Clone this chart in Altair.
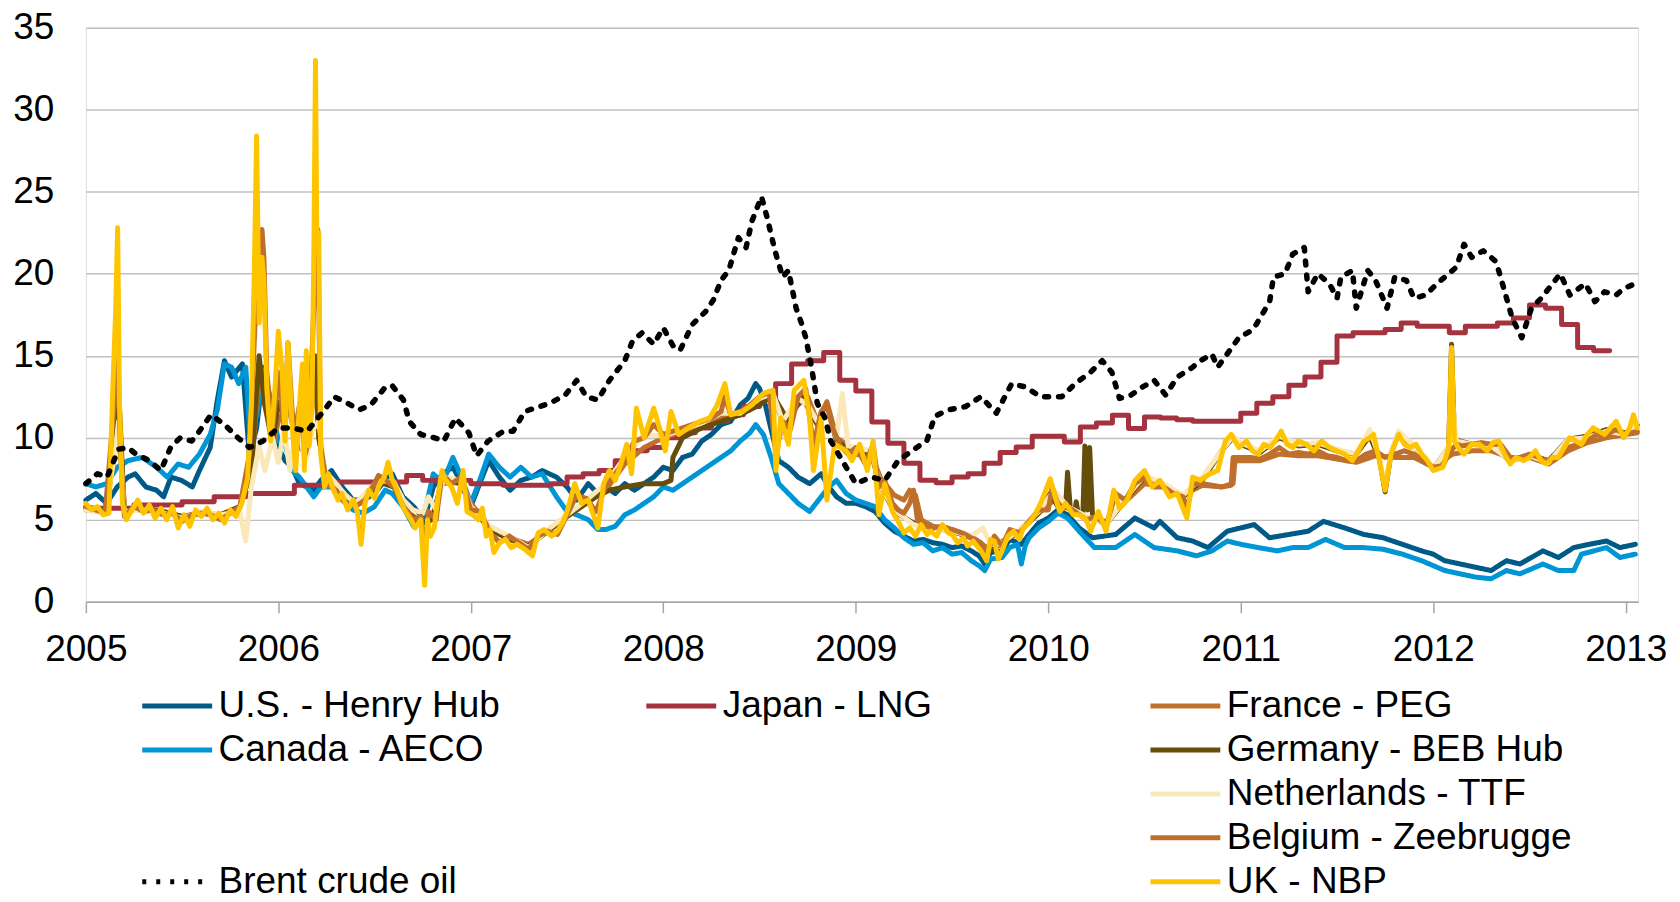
import altair as alt
import pandas as pd

FONT = "Liberation Sans"

# ---------------- data (decimal year, $/MMBtu) ----------------
hh_x = [2005.0, 2005.052, 2005.108, 2005.163, 2005.219, 2005.256, 2005.312, 2005.367, 2005.404, 2005.442,
        2005.497, 2005.553, 2005.59, 2005.646, 2005.683, 2005.72, 2005.757, 2005.813, 2005.85, 2005.887,
        2005.924, 2005.961, 2006.0, 2006.035, 2006.072, 2006.109, 2006.147, 2006.184, 2006.221, 2006.276,
        2006.332, 2006.388, 2006.443, 2006.499, 2006.555, 2006.592, 2006.647, 2006.703, 2006.759, 2006.805,
        2006.852, 2006.907, 2006.944, 2007.0, 2007.046, 2007.093, 2007.148, 2007.204, 2007.26, 2007.315,
        2007.371, 2007.445, 2007.50, 2007.55, 2007.61, 2007.66, 2007.70, 2007.75, 2007.80, 2007.85,
        2007.90, 2007.95, 2008.00, 2008.05, 2008.10, 2008.15, 2008.20, 2008.25, 2008.30, 2008.35,
        2008.40, 2008.44, 2008.48, 2008.50, 2008.53, 2008.56, 2008.60, 2008.65, 2008.70, 2008.76,
        2008.82, 2008.86, 2008.90, 2008.95, 2009.00, 2009.05, 2009.10, 2009.15, 2009.20, 2009.25,
        2009.30, 2009.35, 2009.40, 2009.45, 2009.50, 2009.55, 2009.60, 2009.64, 2009.67, 2009.70,
        2009.76, 2009.80, 2009.86, 2009.90, 2009.95, 2010.00, 2010.05, 2010.10, 2010.16, 2010.23,
        2010.35, 2010.45, 2010.55, 2010.58, 2010.67, 2010.75, 2010.83, 2010.93, 2011.00, 2011.07,
        2011.15, 2011.25, 2011.35, 2011.43, 2011.54, 2011.64, 2011.74, 2011.84, 2011.94, 2012.00,
        2012.06, 2012.14, 2012.22, 2012.30, 2012.38, 2012.45, 2012.57, 2012.65, 2012.73, 2012.81,
        2012.90, 2012.97, 2013.05]
hh_v = [6.2, 6.6, 6.0, 7.0, 7.6, 7.8, 7.0, 6.8, 6.4, 7.6,
        7.4, 7.0, 8.0, 9.4, 12.3, 14.7, 13.7, 14.5, 8.8, 10.6,
        14.3, 11.7, 9.4, 8.6, 8.2, 7.2, 7.0, 6.8, 7.4, 8.0,
        7.0, 6.2, 6.2, 6.6, 7.4, 7.8, 6.4, 5.8, 5.0, 7.0,
        7.8, 8.2, 7.4, 5.8, 7.2, 8.6, 7.6, 6.8, 7.4, 7.6,
        8.0, 7.6, 7.0, 6.2, 7.2, 6.6, 7.0, 6.6, 7.2, 6.8,
        7.2, 7.6, 8.2, 8.0, 8.8, 9.0, 9.8, 10.2, 10.8, 11.0,
        12.0, 12.4, 13.3, 13.0, 12.0, 10.5, 8.6, 8.2, 7.6, 7.2,
        7.8, 7.0, 6.4, 6.0, 6.0, 5.8, 5.5, 4.8, 4.3, 4.0,
        3.7, 3.8, 3.6, 3.5, 3.3, 3.4, 3.1, 2.8, 2.3, 3.0,
        3.1, 3.8, 3.5, 4.1, 4.8, 5.1, 5.6, 5.3, 4.5, 3.9,
        4.1, 5.1, 4.5, 4.9, 3.9, 3.7, 3.3, 4.3, 4.5, 4.7,
        3.9, 4.1, 4.3, 4.9, 4.5, 4.1, 3.9, 3.5, 3.1, 2.9,
        2.5, 2.3, 2.1, 1.9, 2.5, 2.3, 3.1, 2.7, 3.3, 3.5,
        3.7, 3.3, 3.5]

aeco_x = [2005.0, 2005.052, 2005.108, 2005.163, 2005.219, 2005.293, 2005.367, 2005.423, 2005.479, 2005.534,
          2005.59, 2005.646, 2005.683, 2005.72, 2005.757, 2005.794, 2005.831, 2005.85, 2005.887, 2005.924,
          2005.961, 2006.0, 2006.035, 2006.072, 2006.109, 2006.147, 2006.184, 2006.221, 2006.276, 2006.332,
          2006.388, 2006.443, 2006.499, 2006.555, 2006.592, 2006.647, 2006.703, 2006.759, 2006.805, 2006.852,
          2006.907, 2006.944, 2007.0, 2007.046, 2007.093, 2007.148, 2007.204, 2007.26, 2007.315, 2007.371,
          2007.445, 2007.50, 2007.55, 2007.61, 2007.66, 2007.70, 2007.75, 2007.80, 2007.85, 2007.90,
          2007.95, 2008.00, 2008.05, 2008.10, 2008.15, 2008.20, 2008.25, 2008.30, 2008.35, 2008.40,
          2008.45, 2008.48, 2008.52, 2008.56, 2008.60, 2008.65, 2008.70, 2008.76, 2008.82, 2008.86,
          2008.90, 2008.95, 2009.00, 2009.05, 2009.10, 2009.15, 2009.20, 2009.25, 2009.30, 2009.35,
          2009.40, 2009.45, 2009.50, 2009.55, 2009.60, 2009.64, 2009.67, 2009.70, 2009.76, 2009.80,
          2009.84, 2009.86, 2009.88, 2009.90, 2009.95, 2010.00, 2010.05, 2010.10, 2010.16, 2010.24,
          2010.35, 2010.45, 2010.55, 2010.67, 2010.77, 2010.85, 2010.93, 2011.00, 2011.09, 2011.19,
          2011.27, 2011.35, 2011.44, 2011.54, 2011.64, 2011.74, 2011.84, 2011.94, 2012.06, 2012.14,
          2012.22, 2012.30, 2012.38, 2012.45, 2012.57, 2012.65, 2012.73, 2012.77, 2012.90, 2012.97,
          2013.05]
aeco_v = [7.2, 7.0, 7.2, 8.2, 8.6, 8.8, 8.2, 7.6, 8.4, 8.2,
          9.0, 10.2, 11.7, 14.5, 14.3, 13.3, 14.3, 10.6, 11.3, 14.1,
          12.3, 9.8, 9.6, 8.0, 7.6, 7.0, 6.4, 7.0, 7.0, 6.2,
          5.6, 5.4, 5.8, 6.8, 6.6, 5.8, 4.6, 5.4, 7.8, 7.2,
          8.8, 7.8, 6.0, 7.4, 9.0, 8.2, 7.6, 8.2, 7.6, 7.8,
          6.4, 5.5, 5.3, 5.0, 4.4, 4.4, 4.6, 5.3, 5.6, 6.0,
          6.4, 7.0, 6.8, 7.2, 7.6, 8.0, 8.4, 8.8, 9.2, 9.8,
          10.3, 10.8, 10.2, 8.8, 7.2, 6.6, 6.0, 5.5, 6.4, 7.0,
          7.4, 6.6, 6.2, 6.0, 5.8, 5.0, 4.5, 3.9, 3.5, 3.6,
          3.1, 3.3, 2.9, 3.0, 2.5, 2.2, 1.9, 2.6, 2.7, 3.3,
          3.5, 2.3, 3.4, 3.9, 4.5, 4.9, 5.4, 5.1, 4.3, 3.3,
          3.3, 4.1, 3.3, 3.1, 2.8, 3.1, 3.7, 3.5, 3.3, 3.1,
          3.3, 3.3, 3.8, 3.3, 3.3, 3.2, 2.9, 2.5, 1.9, 1.7,
          1.5, 1.4, 1.9, 1.7, 2.3, 1.9, 1.9, 2.9, 3.3, 2.7,
          2.9]

# Japan LNG: monthly values (Jan 2005 - Nov 2012), drawn as steps
japan_2005 = [5.7, 5.7, 5.7, 5.9, 5.9, 5.9, 6.1, 6.1, 6.4, 6.4, 6.6, 6.6]
japan_2006 = [6.6, 7.1, 7.1, 7.3, 7.3, 7.3, 7.3, 7.3, 7.7, 7.4, 7.4, 7.4]
japan_2007 = [7.2, 7.2, 7.1, 7.1, 7.1, 7.2, 7.6, 7.8, 8.0, 8.6, 9.2, 9.4]
japan_2008 = [10.0, 10.3, 10.6, 11.0, 11.4, 11.9, 12.4, 13.3, 14.5, 14.7, 15.2, 13.5]
japan_2009 = [12.85, 10.96, 9.66, 8.44, 7.41, 7.25, 7.6, 7.8, 8.44, 9.1, 9.44, 10.09]
japan_2010 = [10.09, 9.74, 10.66, 10.9, 11.37, 10.56, 11.27, 11.2, 11.1, 11.0, 11.0, 11.0]
japan_2011 = [11.5, 12.1, 12.5, 13.2, 13.7, 14.6, 16.2, 16.4, 16.4, 16.6, 17.0, 16.8]
japan_2012 = [16.8, 16.4, 16.8, 16.8, 17.0, 17.3, 18.1, 17.9, 16.9, 15.5, 15.3]

uk_x = [2005.00, 2005.03, 2005.06, 2005.09, 2005.12, 2005.14, 2005.155, 2005.165, 2005.175, 2005.19,
        2005.21, 2005.24, 2005.27, 2005.30, 2005.33, 2005.36, 2005.39, 2005.42, 2005.45, 2005.48,
        2005.51, 2005.54, 2005.57, 2005.60, 2005.63, 2005.66, 2005.69, 2005.72, 2005.75, 2005.78,
        2005.81, 2005.84, 2005.86, 2005.875, 2005.887, 2005.90, 2005.915, 2005.925, 2005.94, 2005.96,
        2005.98, 2006.00, 2006.02, 2006.035, 2006.05, 2006.07, 2006.09, 2006.11, 2006.125, 2006.135,
        2006.145, 2006.16, 2006.175, 2006.185, 2006.193, 2006.20, 2006.21, 2006.22, 2006.24, 2006.26,
        2006.28, 2006.31, 2006.33, 2006.36, 2006.39, 2006.41, 2006.43, 2006.45, 2006.47, 2006.50,
        2006.52, 2006.55, 2006.57, 2006.59, 2006.61, 2006.64, 2006.66, 2006.69, 2006.71, 2006.74,
        2006.76, 2006.775, 2006.79, 2006.81, 2006.83, 2006.85, 2006.87, 2006.90, 2006.93, 2006.96,
        2006.98, 2007.01, 2007.04, 2007.06, 2007.08, 2007.10, 2007.12, 2007.15, 2007.18, 2007.21,
        2007.24, 2007.28, 2007.32, 2007.35, 2007.38, 2007.42, 2007.45, 2007.48, 2007.50, 2007.54,
        2007.575, 2007.61, 2007.66, 2007.69, 2007.72, 2007.75, 2007.78, 2007.81, 2007.835, 2007.86,
        2007.90, 2007.95, 2007.98, 2008.01, 2008.04, 2008.08, 2008.13, 2008.19, 2008.24, 2008.28,
        2008.32, 2008.35, 2008.41, 2008.46, 2008.52, 2008.57, 2008.585, 2008.61, 2008.65, 2008.68,
        2008.73, 2008.76, 2008.78, 2008.82, 2008.85, 2008.89, 2008.95, 2008.98, 2009.02, 2009.06,
        2009.09, 2009.12, 2009.15, 2009.19, 2009.22, 2009.25, 2009.28, 2009.31, 2009.34, 2009.37,
        2009.39, 2009.42, 2009.45, 2009.48, 2009.50, 2009.53, 2009.56, 2009.58, 2009.61, 2009.65,
        2009.68, 2009.70, 2009.72, 2009.74, 2009.76, 2009.79, 2009.82, 2009.85, 2009.87, 2009.90,
        2009.93, 2009.96, 2010.01, 2010.04, 2010.06, 2010.09, 2010.13, 2010.16, 2010.19, 2010.20,
        2010.22, 2010.26, 2010.30, 2010.34, 2010.37, 2010.41, 2010.45, 2010.50, 2010.54, 2010.58,
        2010.63, 2010.67, 2010.72, 2010.75, 2010.79, 2010.84, 2010.88, 2010.92, 2010.95, 2010.99,
        2011.03, 2011.06, 2011.09, 2011.12, 2011.15, 2011.18, 2011.21, 2011.24, 2011.27, 2011.30,
        2011.34, 2011.38, 2011.42, 2011.46, 2011.50, 2011.54, 2011.58, 2011.61, 2011.64, 2011.67,
        2011.69, 2011.72, 2011.75, 2011.78, 2011.82, 2011.85, 2011.88, 2011.91, 2011.94, 2011.97,
        2012.00, 2012.05, 2012.08, 2012.095, 2012.11, 2012.13, 2012.16, 2012.20, 2012.24, 2012.28,
        2012.31, 2012.34, 2012.37, 2012.40, 2012.43, 2012.47, 2012.50, 2012.53, 2012.56, 2012.59,
        2012.62, 2012.65, 2012.68, 2012.71, 2012.74, 2012.77, 2012.80, 2012.83, 2012.86, 2012.89,
        2012.92, 2012.95, 2012.99, 2013.02, 2013.04, 2013.06]
uk_v = [6.0, 5.6, 5.8, 5.3, 5.4, 13.0, 17.8, 22.8, 12.0, 6.0,
        5.0, 5.6, 6.2, 5.4, 5.9, 5.1, 5.7, 5.0, 5.8, 4.5,
        5.3, 4.6, 5.6, 5.2, 5.7, 5.0, 5.4, 4.8, 5.6, 5.2,
        6.0, 7.5, 12.0, 20.0, 28.4, 17.0, 21.0, 19.5, 13.0, 9.8,
        12.5, 16.5, 14.0, 9.8, 15.8, 11.0, 8.0, 12.0, 14.5, 8.0,
        15.3, 9.5, 12.0, 22.0, 33.0, 22.0, 22.5, 9.0, 7.0, 7.8,
        7.0, 6.2, 6.6, 5.6, 6.2, 5.5, 3.5, 6.0, 6.8, 6.3,
        7.0, 7.6, 8.5, 7.5, 7.0, 6.0, 5.5, 5.0, 4.5, 5.0,
        1.0, 5.0, 4.0, 4.5, 6.5, 8.0, 7.4, 7.0, 6.0, 8.0,
        5.5, 5.3, 5.0, 5.7, 4.0, 4.4, 3.0, 3.6, 3.8, 3.3,
        3.5, 3.2, 2.8, 4.2, 4.4, 4.0, 4.3, 4.9, 5.5, 7.2,
        6.0, 6.2, 4.5, 7.2, 8.0, 7.4, 8.4, 9.6, 7.8, 11.8,
        10.0, 11.8, 10.6, 9.2, 11.6, 10.2, 10.6, 11.0, 11.2, 12.0,
        13.3, 11.4, 11.6, 12.0, 12.7, 12.9, 8.0, 11.2, 9.6, 12.9,
        13.5, 11.2, 8.0, 11.2, 6.2, 9.6, 9.2, 8.6, 9.6, 8.0,
        9.8, 5.3, 7.2, 5.5, 4.9, 4.2, 4.5, 4.0, 4.7, 4.1,
        4.3, 4.0, 4.7, 4.2, 4.1, 3.6, 3.9, 3.4, 3.7, 3.1,
        2.5, 3.8, 3.7, 2.6, 3.1, 4.0, 4.3, 3.8, 4.5, 4.8,
        5.3, 6.0, 7.5, 6.2, 5.5, 6.0, 5.3, 5.3, 5.1, 4.9,
        4.3, 5.5, 4.3, 6.8, 5.7, 6.2, 7.4, 8.0, 7.0, 7.4,
        6.4, 6.6, 5.1, 7.6, 7.4, 7.8, 8.0, 9.8, 10.2, 9.4,
        9.8, 9.2, 9.0, 9.6, 9.4, 9.8, 10.4, 9.6, 9.4, 9.8,
        9.6, 9.2, 9.8, 9.4, 9.2, 9.0, 8.6, 9.2, 9.8, 10.0,
        10.2, 8.6, 6.8, 9.0, 10.2, 9.6, 9.4, 9.6, 9.0, 8.6,
        8.0, 8.2, 9.4, 15.5, 9.8, 9.4, 9.0, 9.6, 9.6, 9.2,
        9.7, 9.8, 9.0, 8.4, 8.8, 8.6, 8.8, 9.2, 8.6, 8.4,
        8.8, 8.8, 9.4, 10.0, 9.8, 9.6, 10.2, 10.6, 10.4, 10.2,
        10.6, 11.0, 10.0, 10.6, 11.4, 10.6]

be_x = [2005.00, 2005.05, 2005.10, 2005.14, 2005.165, 2005.18, 2005.20, 2005.25, 2005.30, 2005.35,
        2005.40, 2005.45, 2005.50, 2005.55, 2005.60, 2005.65, 2005.70, 2005.75, 2005.80, 2005.85,
        2005.89, 2005.915, 2005.925, 2005.94, 2005.97, 2006.00, 2006.03, 2006.05, 2006.08, 2006.11,
        2006.14, 2006.16, 2006.19, 2006.205, 2006.22, 2006.25, 2006.30, 2006.35, 2006.40, 2006.45,
        2006.50, 2006.52, 2006.55, 2006.60, 2006.65, 2006.70, 2006.74, 2006.76, 2006.78, 2006.82,
        2006.85, 2006.90, 2006.95, 2007.00, 2007.05, 2007.10, 2007.15, 2007.20, 2007.25, 2007.30,
        2007.35, 2007.40, 2007.45, 2007.50, 2007.55, 2007.60, 2007.65, 2007.70, 2007.75, 2007.80,
        2007.85, 2007.90, 2007.95, 2008.00, 2008.05, 2008.10, 2008.15, 2008.20, 2008.25, 2008.30,
        2008.32, 2008.35, 2008.40, 2008.45, 2008.50, 2008.55, 2008.585, 2008.62, 2008.66, 2008.70,
        2008.74, 2008.78, 2008.82, 2008.85, 2008.88, 2008.92, 2008.96, 2009.00, 2009.05, 2009.09,
        2009.12, 2009.15, 2009.19, 2009.22, 2009.25, 2009.28, 2009.30, 2009.32, 2009.36, 2009.40,
        2009.45, 2009.50, 2009.55, 2009.60, 2009.65, 2009.68, 2009.72, 2009.76, 2009.80, 2009.85,
        2009.90, 2009.95, 2010.00, 2010.02, 2010.06, 2010.10, 2010.15, 2010.20, 2010.25, 2010.30,
        2010.35, 2010.40, 2010.45, 2010.50, 2010.55, 2010.60, 2010.65, 2010.70, 2010.72, 2010.75,
        2010.80, 2010.85, 2010.90, 2010.95, 2010.96, 2011.00, 2011.05, 2011.10, 2011.15, 2011.20,
        2011.25, 2011.30, 2011.35, 2011.40, 2011.45, 2011.50, 2011.55, 2011.60, 2011.65, 2011.70,
        2011.75, 2011.80, 2011.85, 2011.90, 2011.95, 2012.00, 2012.05, 2012.08, 2012.10, 2012.12,
        2012.15, 2012.20, 2012.25, 2012.30, 2012.35, 2012.40, 2012.45, 2012.50, 2012.55, 2012.60,
        2012.65, 2012.70, 2012.75, 2012.80, 2012.85, 2012.90, 2012.95, 2013.00, 2013.06]
be_v = [5.8, 5.6, 5.4, 11.0, 15.0, 9.0, 5.2, 5.8, 5.5, 5.6,
        5.3, 5.4, 4.9, 5.3, 5.4, 5.3, 5.0, 5.4, 5.8, 9.0,
        20.0, 22.7, 21.0, 14.0, 10.5, 14.0, 10.5, 15.8, 10.0, 12.0,
        9.0, 10.0, 20.0, 22.7, 9.5, 7.2, 6.8, 6.0, 5.8, 6.2,
        7.2, 7.7, 7.5, 7.0, 5.8, 5.0, 5.2, 3.0, 5.5, 5.0,
        7.8, 7.2, 7.6, 5.6, 5.5, 4.2, 3.6, 4.0, 3.6, 3.2,
        4.0, 4.3, 4.1, 5.3, 6.5, 6.3, 5.5, 7.0, 7.8, 8.6,
        9.8, 10.0, 10.8, 10.2, 10.4, 10.6, 10.8, 11.0, 11.2, 11.6,
        12.5, 11.4, 11.6, 12.0, 12.5, 12.8, 9.0, 11.0, 10.5, 12.5,
        13.0, 9.5, 11.6, 12.0, 10.6, 9.5, 9.0, 9.4, 8.4, 9.6,
        7.0, 7.4, 6.0, 5.6, 5.4, 6.0, 6.8, 5.0, 4.6, 4.5,
        4.6, 4.4, 4.2, 3.9, 3.6, 3.0, 4.0, 3.4, 4.4, 4.2,
        4.9, 5.6, 5.6, 7.0, 5.6, 5.8, 5.4, 5.0, 5.2, 4.6,
        6.6, 6.2, 7.2, 7.6, 7.0, 7.0, 6.6, 6.4, 5.6, 7.2,
        7.2, 7.1, 7.0, 7.1, 8.8, 8.8, 8.8, 8.7, 9.0, 9.4,
        9.0, 9.1, 9.0, 9.2, 8.9, 8.8, 8.6, 8.6, 9.0, 9.2,
        8.8, 9.0, 9.2, 9.0, 8.6, 8.2, 8.3, 9.0, 9.3, 9.6,
        9.5, 9.6, 9.7, 9.6, 9.6, 8.8, 8.8, 9.0, 8.8, 8.6,
        8.8, 9.4, 9.6, 9.8, 10.2, 10.2, 10.5, 10.2, 10.4]

fr_x = [2005.00, 2005.10, 2005.15, 2005.17, 2005.20, 2005.30, 2005.40, 2005.50, 2005.60, 2005.70,
        2005.80, 2005.86, 2005.90, 2005.93, 2005.97, 2006.00, 2006.05, 2006.10, 2006.15, 2006.19,
        2006.21, 2006.25, 2006.30, 2006.35, 2006.40, 2006.45, 2006.52, 2006.60, 2006.68, 2006.75,
        2006.80, 2006.85, 2006.95, 2007.00, 2007.10, 2007.20, 2007.30, 2007.40, 2007.50, 2007.60,
        2007.70, 2007.80, 2007.90, 2008.00, 2008.10, 2008.20, 2008.30, 2008.40, 2008.50, 2008.57,
        2008.62, 2008.70, 2008.75, 2008.80, 2008.85, 2008.90, 2009.00, 2009.08, 2009.13, 2009.20,
        2009.25, 2009.28, 2009.31, 2009.34, 2009.40, 2009.50, 2009.60, 2009.68, 2009.75, 2009.85,
        2009.95, 2010.03, 2010.10, 2010.20, 2010.30, 2010.40, 2010.50, 2010.60, 2010.70, 2010.80,
        2010.90, 2010.96, 2010.97, 2011.10, 2011.20, 2011.30, 2011.40, 2011.50, 2011.60, 2011.70,
        2011.80, 2011.90, 2012.00, 2012.10, 2012.20, 2012.30, 2012.40, 2012.50, 2012.60, 2012.70,
        2012.80, 2012.90, 2013.00, 2013.06]
fr_v = [5.6, 5.5, 9.0, 12.0, 5.6, 5.6, 5.5, 5.2, 5.4, 5.3,
        5.8, 8.0, 14.0, 12.0, 9.5, 11.0, 12.0, 9.5, 9.0, 14.0,
        10.0, 7.4, 7.0, 6.2, 6.0, 6.5, 7.5, 7.0, 5.4, 4.8,
        5.2, 7.2, 7.3, 6.0, 4.5, 3.9, 3.5, 4.3, 5.2, 6.0,
        6.8, 8.4, 9.4, 10.0, 10.4, 10.8, 11.2, 11.4, 12.2, 12.5,
        11.0, 12.0, 12.5, 11.0, 12.2, 10.0, 9.2, 9.0, 7.5, 6.5,
        6.2, 6.8, 6.5, 5.0, 4.6, 4.4, 4.0, 3.3, 3.6, 4.3,
        5.4, 6.2, 5.7, 5.1, 4.9, 6.1, 7.2, 7.0, 6.5, 7.1,
        7.0, 7.2, 8.6, 8.6, 9.0, 8.9, 8.9, 8.7, 8.5, 8.9,
        8.8, 8.8, 8.2, 9.0, 9.2, 9.2, 8.8, 8.8, 8.4, 9.2,
        9.7, 10.0, 10.2, 10.3]

de_x = [2005.00, 2005.10, 2005.15, 2005.17, 2005.20, 2005.30, 2005.40, 2005.50, 2005.60, 2005.70,
        2005.80, 2005.86, 2005.90, 2005.93, 2005.97, 2006.00, 2006.05, 2006.10, 2006.15, 2006.19,
        2006.21, 2006.25, 2006.30, 2006.35, 2006.40, 2006.45, 2006.52, 2006.60, 2006.68, 2006.75,
        2006.80, 2006.85, 2006.95, 2007.00, 2007.10, 2007.20, 2007.30, 2007.40, 2007.50, 2007.60,
        2007.65, 2007.72, 2007.80, 2007.90, 2008.00, 2008.04, 2008.05, 2008.10, 2008.20, 2008.30,
        2008.40, 2008.50, 2008.57, 2008.65, 2008.72, 2008.80, 2008.85, 2008.90, 2009.00, 2009.08,
        2009.13, 2009.20, 2009.30, 2009.40, 2009.50, 2009.60, 2009.68, 2009.75, 2009.85, 2009.95,
        2010.01, 2010.05, 2010.09, 2010.10, 2010.115, 2010.14, 2010.145, 2010.155, 2010.18, 2010.19,
        2010.205, 2010.215, 2010.23, 2010.30, 2010.40, 2010.50, 2010.60, 2010.70, 2010.80, 2010.90,
        2010.96, 2011.00, 2011.10, 2011.20, 2011.30, 2011.40, 2011.50, 2011.60, 2011.67, 2011.72,
        2011.75, 2011.78, 2011.82, 2011.90, 2012.00, 2012.08, 2012.095, 2012.11, 2012.20, 2012.30,
        2012.40, 2012.50, 2012.60, 2012.70, 2012.80, 2012.90, 2013.00, 2013.06]
de_v = [5.8, 5.5, 10.0, 13.0, 5.6, 5.7, 5.5, 5.2, 5.4, 5.3,
        5.8, 8.0, 15.0, 12.0, 9.8, 12.0, 13.0, 9.5, 9.5, 15.0,
        10.0, 7.4, 7.0, 6.2, 6.0, 6.5, 7.3, 7.0, 5.3, 4.8,
        5.0, 7.4, 7.2, 5.8, 4.4, 3.8, 3.4, 4.3, 5.2, 6.0,
        6.4, 6.8, 7.0, 7.2, 7.2, 7.4, 8.8, 10.0, 10.6, 11.0,
        11.4, 12.0, 12.6, 11.0, 12.5, 10.8, 11.8, 9.8, 9.0, 9.0,
        7.0, 5.5, 4.8, 4.5, 4.3, 3.9, 3.0, 3.5, 4.3, 5.4,
        6.6, 5.8, 5.8, 7.9, 5.6, 5.6, 6.1, 5.4, 5.4, 9.5,
        5.6, 9.4, 5.2, 4.7, 6.2, 7.6, 7.1, 6.4, 7.4, 9.2,
        10.0, 9.6, 9.1, 10.0, 9.5, 9.6, 9.2, 9.0, 10.1, 8.7,
        6.7, 9.0, 10.3, 9.5, 8.1, 9.4, 15.7, 9.9, 9.6, 9.5,
        8.6, 8.9, 8.6, 9.9, 10.1, 10.5, 10.3, 10.8]

nl_x = [2005.00, 2005.10, 2005.15, 2005.17, 2005.20, 2005.30, 2005.40, 2005.50, 2005.60, 2005.70,
        2005.80, 2005.83, 2005.86, 2005.90, 2005.93, 2005.97, 2006.00, 2006.03, 2006.06, 2006.10,
        2006.14, 2006.18, 2006.21, 2006.24, 2006.30, 2006.35, 2006.40, 2006.45, 2006.52, 2006.60,
        2006.65, 2006.70, 2006.75, 2006.78, 2006.82, 2006.86, 2006.95, 2007.00, 2007.10, 2007.20,
        2007.30, 2007.40, 2007.50, 2007.60, 2007.70, 2007.80, 2007.90, 2008.00, 2008.10, 2008.20,
        2008.30, 2008.40, 2008.50, 2008.57, 2008.62, 2008.70, 2008.75, 2008.80, 2008.85, 2008.90,
        2008.93, 2008.96, 2009.00, 2009.08, 2009.13, 2009.20, 2009.30, 2009.40, 2009.50, 2009.60,
        2009.66, 2009.70, 2009.75, 2009.85, 2009.95, 2010.03, 2010.10, 2010.20, 2010.30, 2010.40,
        2010.50, 2010.60, 2010.70, 2010.80, 2010.90, 2010.96, 2011.00, 2011.10, 2011.20, 2011.30,
        2011.40, 2011.50, 2011.60, 2011.67, 2011.72, 2011.75, 2011.78, 2011.82, 2011.90, 2012.00,
        2012.08, 2012.10, 2012.12, 2012.20, 2012.30, 2012.40, 2012.50, 2012.60, 2012.70, 2012.80,
        2012.90, 2013.00, 2013.06]
nl_v = [5.6, 5.4, 9.0, 11.0, 5.5, 5.6, 5.4, 5.1, 5.5, 5.3,
        5.5, 3.7, 7.0, 9.5, 8.0, 10.0, 8.5, 10.5, 8.0, 11.0,
        8.5, 10.5, 11.0, 8.0, 7.2, 6.5, 6.0, 6.6, 7.4, 7.3,
        6.2, 5.6, 5.4, 6.4, 5.6, 7.6, 7.4, 5.8, 4.6, 4.0,
        3.3, 4.4, 5.3, 6.2, 7.2, 8.8, 10.2, 10.1, 10.5, 10.9,
        11.5, 11.5, 12.4, 12.7, 11.0, 12.4, 12.0, 11.0, 11.5, 10.0,
        12.7, 9.5, 9.4, 9.2, 7.0, 5.6, 4.7, 4.5, 4.3, 4.0,
        4.5, 3.5, 3.5, 4.4, 5.5, 6.8, 5.8, 5.2, 4.7, 6.3,
        7.7, 7.2, 6.5, 7.6, 9.2, 10.1, 9.7, 9.2, 10.1, 9.6,
        9.7, 9.3, 9.0, 10.5, 8.8, 7.0, 9.1, 10.4, 9.5, 8.1,
        9.4, 12.0, 9.8, 9.6, 9.5, 8.6, 8.9, 8.5, 9.9, 10.0,
        10.4, 10.2, 10.9]

brent_x = [2005.00, 2005.06, 2005.11, 2005.17, 2005.22, 2005.26, 2005.33, 2005.39, 2005.44, 2005.49,
           2005.55, 2005.59, 2005.65, 2005.72, 2005.79, 2005.85, 2005.92, 2006.00, 2006.07, 2006.15,
           2006.24, 2006.29, 2006.36, 2006.42, 2006.48, 2006.55, 2006.59, 2006.65, 2006.68, 2006.74,
           2006.81, 2006.86, 2006.92, 2006.99, 2007.03, 2007.09, 2007.17, 2007.22, 2007.28, 2007.33,
           2007.41, 2007.49, 2007.55, 2007.60, 2007.66, 2007.72, 2007.80, 2007.84, 2007.89, 2007.95,
           2008.00, 2008.06, 2008.09, 2008.15, 2008.22, 2008.26, 2008.30, 2008.34, 2008.39, 2008.43,
           2008.46, 2008.51, 2008.54, 2008.58, 2008.62, 2008.65, 2008.69, 2008.72, 2008.74, 2008.77,
           2008.80, 2008.84, 2008.87, 2008.93, 2008.96, 2009.00, 2009.08, 2009.15, 2009.22, 2009.28,
           2009.37, 2009.41, 2009.48, 2009.57, 2009.65, 2009.73, 2009.81, 2009.88, 2009.96, 2010.07,
           2010.14, 2010.22, 2010.28, 2010.33, 2010.37, 2010.43, 2010.49, 2010.55, 2010.61, 2010.67,
           2010.75, 2010.79, 2010.85, 2010.88, 2010.99, 2011.05, 2011.08, 2011.15, 2011.17, 2011.23,
           2011.27, 2011.33, 2011.35, 2011.40, 2011.46, 2011.50, 2011.52, 2011.58, 2011.60, 2011.66,
           2011.70, 2011.76, 2011.80, 2011.86, 2011.90, 2011.96, 2012.02, 2012.12, 2012.16, 2012.20,
           2012.26, 2012.32, 2012.34, 2012.41, 2012.46, 2012.51, 2012.56, 2012.66, 2012.71, 2012.79,
           2012.84, 2012.89, 2012.95, 2012.99, 2013.05]
brent_v = [7.2, 7.8, 7.6, 9.3, 9.4, 9.0, 8.6, 8.0, 9.4, 10.0,
           9.8, 10.4, 11.4, 10.8, 10.0, 9.4, 9.8, 10.6, 10.6, 10.4,
           11.7, 12.5, 12.1, 11.7, 12.0, 13.0, 13.2, 12.3, 11.0, 10.2,
           10.0, 9.8, 11.2, 10.3, 8.9, 9.8, 10.4, 10.4, 11.6, 11.8,
           12.1, 12.6, 13.5, 12.5, 12.3, 13.5, 14.7, 15.9, 16.4, 15.7,
           16.7, 15.4, 15.4, 16.9, 17.7, 18.4, 19.6, 20.2, 22.2, 21.6,
           23.2, 24.7, 23.4, 21.4, 19.8, 20.2, 17.9, 16.9, 16.1, 14.3,
           12.1, 11.2, 9.8, 8.6, 8.0, 7.2, 7.6, 7.4, 8.6, 9.1,
           9.85, 11.3, 11.7, 11.9, 12.5, 11.5, 13.3, 13.1, 12.5, 12.5,
           13.3, 14.0, 14.7, 14.0, 12.4, 12.6, 13.1, 13.5, 12.6, 13.7,
           14.3, 14.7, 15.1, 14.3, 16.1, 16.5, 16.9, 18.3, 19.8, 20.0,
           21.2, 21.6, 18.9, 20.0, 19.4, 18.5, 19.8, 20.2, 17.9, 20.2,
           19.6, 17.9, 19.8, 19.6, 18.5, 18.7, 19.4, 20.4, 21.8, 21.0,
           21.4, 20.8, 20.2, 17.3, 16.1, 17.9, 18.5, 20.0, 18.7, 19.4,
           18.3, 18.9, 18.7, 19.1, 19.4]

# ---------------- build table ----------------
japan_vals = japan_2005 + japan_2006 + japan_2007 + japan_2008 + japan_2009 + japan_2010 + japan_2011 + japan_2012
japan_x = [2005 + i / 12 for i in range(len(japan_vals))]
japan_x.append(2005 + len(japan_vals) / 12)   # end of the last monthly step
japan_vals = japan_vals + [japan_vals[-1]]

HH, AECO, JP = "U.S. - Henry Hub", "Canada - AECO", "Japan - LNG"
FR, DE, NL = "France - PEG", "Germany - BEB Hub", "Netherlands - TTF"
BE, UK, BR = "Belgium - Zeebrugge", "UK - NBP", "Brent crude oil"

series_data = [
    (HH, hh_x, hh_v), (AECO, aeco_x, aeco_v), (JP, japan_x, japan_vals),
    (FR, fr_x, fr_v), (DE, de_x, de_v), (NL, nl_x, nl_v),
    (BE, be_x, be_v), (UK, uk_x, uk_v), (BR, brent_x, brent_v),
]
rows = []
for name, xs, vs in series_data:
    for xv, yv in zip(xs, vs):
        rows.append({"series": name, "year": xv, "value": yv})
df = pd.DataFrame(rows)

colors = {
    HH: "#005A87", AECO: "#0096D6", JP: "#A5323F",
    FR: "#C0722C", DE: "#654E0B", NL: "#FAE8B8",
    BE: "#BE6F2C", UK: "#FFC400", BR: "#000000",
}
# 3-column legend, row-major, with invisible blank cells
legend_order = [HH, JP, FR,
                AECO, " ", DE,
                "  ", "   ", NL,
                "    ", "     ", BE,
                BR, "      ", UK]
legend_colors = [colors.get(n, "rgba(0,0,0,0)") for n in legend_order]
legend_dashes = [[4, 10] if n == BR else [1, 0] for n in legend_order]

legend = alt.Legend(
    orient="none", legendX=54, legendY=661.5, columns=3, direction="horizontal",
    title=None, symbolType="stroke", symbolSize=4900, symbolStrokeWidth=5,
    labelFont=FONT, labelFontSize=37, labelColor="#000000", labelLimit=700,
    labelOffset=4, columnPadding=80, rowPadding=7, clipHeight=36, gridAlign="all",
    padding=0, symbolOpacity=1,
)

x_enc = alt.X("year:Q", scale=alt.Scale(domain=[2005, 2013.064], nice=False, zero=False),
              axis=alt.Axis(title=None, values=[2005, 2006, 2007, 2008, 2009, 2010, 2011, 2012, 2013],
                            format="d", grid=False, labelFlush=False, labelFont=FONT,
                            labelFontSize=37, labelColor="#000000", labelPadding=19,
                            tickSize=11, tickWidth=1.5, tickColor="#A6A6A6",
                            domainColor="#A6A6A6", domainWidth=1.5))
y_enc = alt.Y("value:Q", scale=alt.Scale(domain=[0, 35], nice=False),
              axis=alt.Axis(title=None, values=[0, 5, 10, 15, 20, 25, 30, 35], grid=True,
                            gridColor="#C0C0C0", gridWidth=1.5, domain=False, ticks=False,
                            labelFont=FONT, labelFontSize=37, labelColor="#000000",
                            labelPadding=32))
color_enc = alt.Color("series:N", scale=alt.Scale(domain=legend_order, range=legend_colors),
                      legend=legend)
dash_enc = alt.StrokeDash("series:N", scale=alt.Scale(domain=legend_order, range=legend_dashes),
                          legend=legend)

base = alt.Chart(df)
layers = []
for name, _, _ in series_data:
    mark_kw = dict(strokeWidth=5.5 if name == BR else 5, strokeJoin="round", strokeCap="round")
    if name == JP:
        mark_kw["interpolate"] = "step-after"
    layers.append(base.transform_filter(alt.datum.series == name)
                  .mark_line(**mark_kw)
                  .encode(x=x_enc, y=y_enc, color=color_enc, strokeDash=dash_enc))

chart = alt.layer(*layers).properties(
    width=1555, height=575,
    autosize=alt.AutoSizeParams(type="none"),
    padding={"left": 78, "top": 19, "right": 34, "bottom": 292},
).configure_view(stroke=None).configure(font=FONT)

chart.save("out.html", embed_options={"renderer": "svg", "actions": False})
